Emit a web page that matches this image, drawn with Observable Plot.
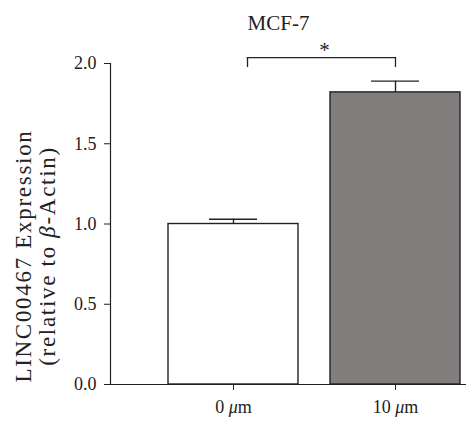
<!DOCTYPE html>
<html>
<head>
<meta charset="utf-8">
<script src="https://cdn.jsdelivr.net/npm/d3@7"></script>
<script src="https://cdn.jsdelivr.net/npm/@observablehq/plot@0.6"></script>
<style>
  html, body { margin: 0; padding: 0; background: #fff; }
</style>
</head>
<body>
<div id="chart"></div>
<script>
// MCF-7: LINC00467 expression (relative to β-Actin), mean ± SEM
const groups = ["0 μm", "10 μm"];
const means = [1.0, 1.82];
const sems = [0.03, 0.07];
const fills = ["#ffffff", "#827e7d"];
const yTicks = [0, 0.5, 1.0, 1.5, 2.0];

// significance bracket between the two groups
const bracketGroups = ["0 μm", "10 μm"];
const bracketLow = 1.975;
const bracketHigh = 2.037;
const bracketLabel = "*";

const title = "MCF-7";
const yLabelLines = ["LINC00467 Expression", "(relative to β-Actin)"];

const data = groups.map((g, i) => ({group: g, mean: means[i], sem: sems[i], fill: fills[i]}));

const ink = "#222";
const bandwidth = 129.6; // matches the x scale settings below

const chart = Plot.plot({
  width: 466,
  height: 422,
  marginLeft: 110,
  marginRight: 0,
  marginTop: 63,
  marginBottom: 38,
  style: {fontFamily: "'Liberation Serif', 'Times New Roman', serif", fontSize: "18px", color: ink, background: "#fff"},
  x: {type: "band", domain: groups, range: [110, 517.6], paddingInner: 0.2, paddingOuter: 0.358, label: null},
  y: {domain: [0, 2], label: null},
  marks: [
    Plot.barY(data, {x: "group", y: "mean", fill: "fill", stroke: ink, strokeWidth: 1.4}),
    // upper error whisker and cap
    Plot.ruleX(data, {x: "group", y1: "mean", y2: d => d.mean + d.sem, stroke: ink, strokeWidth: 1.4}),
    Plot.tickY(data, {x: "group", y: d => d.mean + d.sem, stroke: ink, strokeWidth: 1.4, insetLeft: 41, insetRight: 41}),
    // axes
    Plot.axisY({ticks: yTicks, tickFormat: d3.format(".1f"), tickSize: 6, tickPadding: 8, label: null}),
    Plot.axisX({tickSize: 6, tickPadding: 10, label: null}),
    Plot.frame({anchor: "left", stroke: ink, strokeWidth: 1.2}),
    Plot.ruleY([0], {stroke: ink, strokeWidth: 1.2}),
    // bracket
    Plot.ruleX([bracketGroups[0]], {x: d => d, y1: () => bracketLow, y2: () => bracketHigh, dx: 14, stroke: ink, strokeWidth: 1.3}),
    Plot.ruleX([bracketGroups[1]], {x: d => d, y1: () => bracketLow, y2: () => bracketHigh, stroke: ink, strokeWidth: 1.3}),
    Plot.ruleY([bracketHigh], {y: d => d, x1: () => bracketGroups[0], x2: () => bracketGroups[1], insetLeft: bandwidth / 2 + 14, insetRight: bandwidth / 2, stroke: ink, strokeWidth: 1.3}),
    Plot.text([bracketLabel], {x: () => bracketGroups[0], y: () => 2.08, text: d => d, dx: 91, fontSize: 21}),
    // title
    Plot.text([title], {frameAnchor: "top", text: d => d, lineAnchor: "middle", dx: -10, dy: -40, fontSize: 21}),
    // y-axis title, two rotated lines
    Plot.text([yLabelLines[0]], {frameAnchor: "left", text: d => d, rotate: -90, textAnchor: "middle", lineAnchor: "middle", dx: -87, dy: 32, fontSize: 23}),
    Plot.text([yLabelLines[1]], {frameAnchor: "left", text: d => d, rotate: -90, textAnchor: "middle", lineAnchor: "middle", dx: -63, dy: 32, fontSize: 23})
  ]
});

// Greek letters in italic, as tspans inside the same text element
function italicizeGreek(textEl) {
  const s = textEl.textContent;
  const parts = s.split(/([μβ])/);
  if (parts.length === 1) return;
  const sel = d3.select(textEl);
  sel.text(null);
  for (const p of parts) {
    if (!p) continue;
    const t = sel.append("tspan").text(p);
    if (p === "μ" || p === "β") t.attr("font-style", "italic");
  }
}

const svg = d3.select(chart);
svg.selectAll("text")
  .filter(function() { return groups.includes(this.textContent); })
  .each(function() { italicizeGreek(this); });
svg.selectAll("text")
  .filter(function() { return yLabelLines.includes(this.textContent); })
  .style("letter-spacing", "1.7px")
  .each(function() { italicizeGreek(this); });

document.getElementById("chart").append(chart);
</script>
</body>
</html>
